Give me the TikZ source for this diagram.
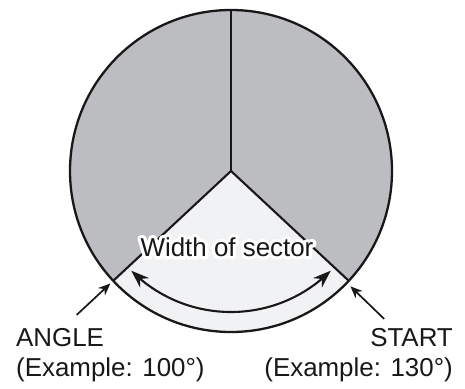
\documentclass[tikz,border=0pt]{standalone}
\usepackage{fontspec}
\setmainfont{Liberation Sans}
\newfontfamily\halofont[FakeBold=25]{Liberation Sans}
\usetikzlibrary{arrows.meta,bending,calc}
\definecolor{sectgray}{HTML}{BCBDC0}
\definecolor{sectlight}{HTML}{F1F2F4}
\definecolor{inkdark}{HTML}{1A1718}

\begin{document}
\begin{tikzpicture}[x=1bp,y=1bp,>=Stealth,font=\fontsize{26}{30}\selectfont,
    line join=round,text=inkdark,
    edgeline/.style={line width=2.1bp,draw=inkdark},
    pointer/.style={line width=1.7bp,draw=inkdark,-{Stealth[length=12bp,width=10bp]}}]
  \useasboundingbox (0,0) rectangle (465,388);
  \coordinate (c) at (231,217);
  \fill[sectgray] (c) circle (161);
  \fill[sectlight] (c) -- ++(223:161) arc (223:317:161) -- cycle;
  \foreach \ang in {90,223,317}
    \draw[edgeline] (c) -- ++(\ang:161);
  \draw[edgeline,line width=2.3bp] (c) circle (161);
  % width of sector
  \draw[edgeline,{Stealth[length=18bp,width=13bp]}-{Stealth[length=18bp,width=13bp]}]
    ($(c)+(225:141)$) arc (225:315:141);
  \node[text=white] (halo) at (227,141) {\halofont Width of sector};
  \node (width) at (halo) {Width of sector};
  % labels
  \node[anchor=north west,align=left,inner sep=0] (angle) at (16,60) {ANGLE\\(Example: 100°)};
  \node[anchor=north east,align=right,inner sep=0] (start) at (453,60) {START\\(Example: 130°)};
  \coordinate (angletail) at ($(c)+(223:211)$);
  \coordinate (angletip) at ($(c)+(223:165)$);
  \coordinate (starttail) at ($(c)+(316:213)$);
  \coordinate (starttip) at ($(c)+(316:166)$);
  \draw[pointer] (angletail) -- (angletip);
  \draw[pointer] (starttail) -- (starttip);
\end{tikzpicture}
\end{document}
